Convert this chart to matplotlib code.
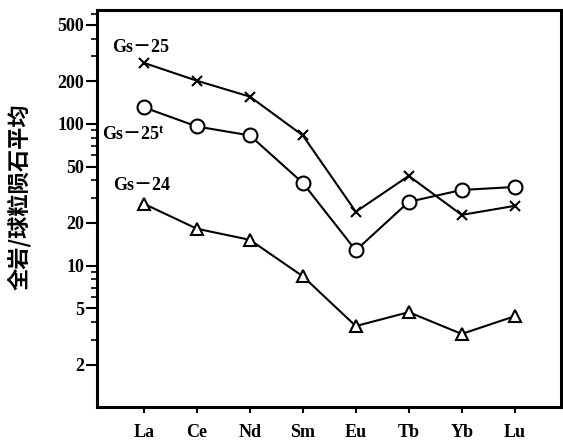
import numpy as np
import matplotlib
matplotlib.use('Agg')
import matplotlib.pyplot as plt
from matplotlib.ticker import FixedLocator, NullFormatter, LogLocator

elements = ['La', 'Ce', 'Nd', 'Sm', 'Eu', 'Tb', 'Yb', 'Lu']
gs25 = [270, 202, 156, 83, 24, 43, 22.8, 26.4]
gs25t = [131, 96, 83, 38.3, 12.8, 28.2, 34.2, 35.9]
gs24 = [27.3, 18.2, 15.2, 8.4, 3.74, 4.69, 3.29, 4.39]
yticks = [2, 5, 10, 20, 50, 100, 200, 500]

serif = 'Liberation Serif'

fig = plt.figure(figsize=(5.63, 4.46), dpi=100)
ax = fig.add_axes([0.172, 0.087, 0.824, 0.891])

x = np.arange(len(elements))
ax.plot(x, gs25, color='k', lw=1.5, marker='x', ms=7, mew=1.5)
ax.plot(x, gs25t, color='k', lw=1.5, marker='o', ms=10, mfc='white', mew=1.5)
ax.plot(x, gs24, color='k', lw=1.5, marker='^', ms=9, mfc='white', mew=1.5)

ax.set_yscale('log')
ax.set_ylim(1.0, 640)
ax.set_xlim(-0.89, 7.87)

ax.yaxis.set_major_locator(FixedLocator(yticks))
ax.set_yticklabels([str(v) for v in yticks], fontfamily=serif, fontweight='bold', fontsize=13)
ax.yaxis.set_minor_locator(LogLocator(base=10, subs=np.arange(2, 10)))
ax.yaxis.set_minor_formatter(NullFormatter())
ax.set_xticks(x)
ax.set_xticklabels(elements, fontfamily=serif, fontweight='bold', fontsize=13)

ax.tick_params(axis='y', which='major', direction='out', length=8, width=1.5, pad=1)
ax.tick_params(axis='y', which='minor', direction='out', length=4, width=1.2)
ax.tick_params(axis='x', direction='out', length=4, width=1.5, pad=8)
for s in ax.spines.values():
    s.set_linewidth(2.2)

# series labels
lab = dict(family=[serif, 'Noto Sans CJK SC'], fontweight='bold', fontsize=13,
           ha='left', va='center')
ax.text(-0.6, 345, 'Gs－25', **lab)
t = ax.text(-0.79, 84.5, 'Gs－25', **lab)
ax.annotate('t', xy=(1, 0.75), xycoords=t, fontfamily=serif, fontweight='bold',
            fontsize=9, ha='left', va='center')
ax.text(-0.58, 36.5, 'Gs－24', **lab)

fig.text(0.035, 0.56, '全岩/球粒陨石平均', rotation=90, ha='center', va='center',
         fontsize=16, fontweight='bold', family=['Noto Sans CJK SC', 'DejaVu Sans'])

fig.savefig('out.png', dpi=100)
